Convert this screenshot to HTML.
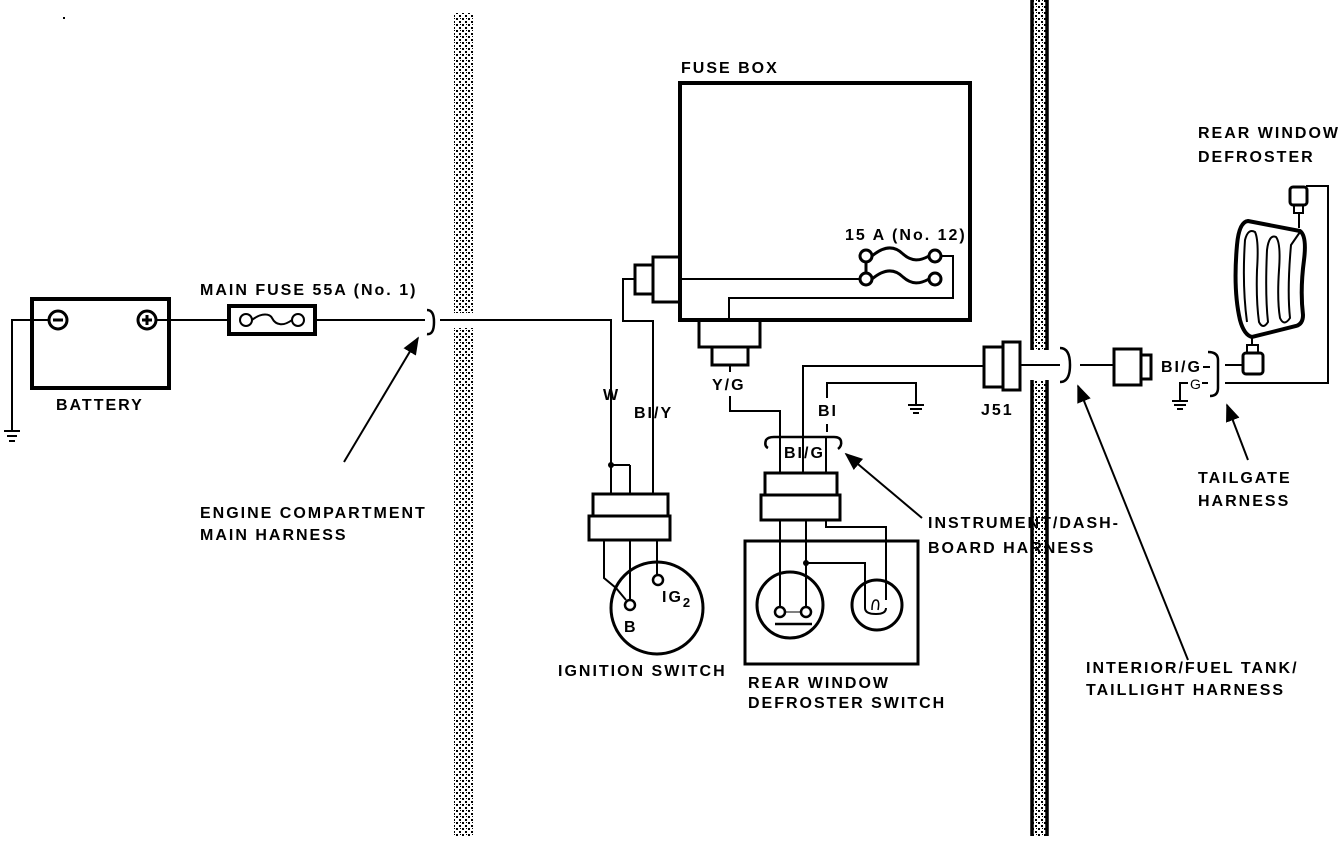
<!DOCTYPE html>
<html><head><meta charset="utf-8"><style>
html,body{margin:0;padding:0;background:#fff;}
svg{display:block;}
text{font-family:"Liberation Sans",sans-serif;font-weight:bold;font-size:16px;letter-spacing:2px;fill:#000;}
</style></head><body>
<svg width="1344" height="842" viewBox="0 0 1344 842" xmlns="http://www.w3.org/2000/svg">
<defs>
<pattern id="st" width="6" height="6" patternUnits="userSpaceOnUse">
<rect width="6" height="6" fill="#fff"/>
<rect x="0" y="0" width="2" height="2" fill="#000"/>
<rect x="3" y="3" width="2" height="2" fill="#000"/>
<rect x="4" y="0" width="1" height="1" fill="#000"/>
</pattern>
<marker id="ah" viewBox="0 0 10 10" refX="9" refY="5" markerWidth="9" markerHeight="9" orient="auto"><path d="M0,1 L10,5 L0,9 z" fill="#000"/></marker>
</defs>
<!-- walls -->
<rect x="454" y="13" width="19" height="300" fill="url(#st)"/>
<rect x="454" y="328" width="19" height="508" fill="url(#st)"/>
<rect x="1032" y="0" width="16" height="350" fill="url(#st)"/>
<rect x="1032" y="380" width="16" height="456" fill="url(#st)"/>
<g stroke="#000" stroke-width="3.5">
<line x1="1032" y1="0" x2="1032" y2="350"/><line x1="1047" y1="0" x2="1047" y2="350"/>
<line x1="1032" y1="380" x2="1032" y2="836"/><line x1="1047" y1="380" x2="1047" y2="836"/>
</g>

<g fill="none" stroke="#000" stroke-width="2">
<rect x="32" y="299" width="137" height="89" stroke-width="4"/>
<circle cx="58" cy="320" r="9" stroke-width="3"/><line x1="53" y1="320" x2="63" y2="320" stroke-width="3"/>
<circle cx="147" cy="320" r="9" stroke-width="3"/><line x1="142" y1="320" x2="152" y2="320" stroke-width="3"/><line x1="147" y1="315" x2="147" y2="325" stroke-width="3"/>
<polyline points="49,320 12,320 12,430"/>
<line x1="4" y1="431" x2="20" y2="431"/><line x1="7" y1="436" x2="17" y2="436"/><line x1="9" y1="441" x2="15" y2="441"/>
<line x1="156" y1="320" x2="229" y2="320"/>
<rect x="229" y="306" width="86" height="28" stroke-width="4"/>
<circle cx="246" cy="320" r="6"/><circle cx="298" cy="320" r="6"/>
<path d="M252,320 C262,312 270,314 272,318 C276,326 284,326 292,320"/>
<line x1="315" y1="320" x2="425" y2="320"/>
<path d="M427,310 Q434,310 434,322 Q434,335 427,334" stroke-width="2.5"/>
<polyline points="440,320 611,320 611,465"/>
<line x1="611" y1="465" x2="611" y2="493"/>
<line x1="344" y1="462" x2="418" y2="338" marker-end="url(#ah)"/>

<rect x="680" y="83" width="290" height="237" stroke-width="4"/>
<rect x="653" y="257" width="27" height="45" stroke-width="3"/>
<rect x="635" y="265" width="18" height="29" stroke-width="3"/>
<polyline points="635,279 623,279 623,321 653,321 653,493"/>
<line x1="680" y1="279" x2="860" y2="279"/>
<circle cx="866" cy="256" r="6" stroke-width="3"/><circle cx="935" cy="256" r="6" stroke-width="3"/>
<circle cx="866" cy="279" r="6" stroke-width="3"/><circle cx="935" cy="279" r="6" stroke-width="3"/>
<line x1="866" y1="262" x2="866" y2="273" stroke-width="3"/>
<path d="M872,256 C885,245 895,246 903,254 C912,262 920,261 929,256" stroke-width="3"/>
<path d="M872,279 C885,268 895,269 903,277 C912,285 920,284 929,279" stroke-width="3"/>
<polyline points="941,256 953,256 953,298 729,298 729,320"/>
<rect x="699" y="320" width="61" height="27" stroke-width="3"/>
<rect x="712" y="347" width="36" height="18" stroke-width="3"/>
<line x1="730" y1="365" x2="730" y2="372"/>
<polyline points="730,396 730,411 780,411 780,438"/>
<polyline points="803,438 803,366 985,366"/>
<polyline points="827,432 827,424"/>
<polyline points="827,398 827,383 916,383 916,404"/>
<line x1="908" y1="405" x2="924" y2="405"/><line x1="910" y1="409" x2="922" y2="409"/><line x1="913" y1="413" x2="919" y2="413"/>

<path d="M768,448 Q764,446 766,440 Q768,437 774,437 L834,437 Q840,437 841,441 Q842,446 838,449" stroke-width="2.5"/>
<line x1="780" y1="437" x2="780" y2="473"/><line x1="803" y1="437" x2="803" y2="473"/><line x1="826" y1="437" x2="826" y2="473"/>
<line x1="922" y1="518" x2="846" y2="454" marker-end="url(#ah)"/>
<rect x="765" y="473" width="72" height="22" stroke-width="3"/>
<rect x="761" y="495" width="79" height="25" stroke-width="3"/>
<rect x="745" y="541" width="173" height="123" stroke-width="3"/>
<circle cx="790" cy="605" r="33" stroke-width="3"/>
<circle cx="877" cy="605" r="25" stroke-width="3"/>
<line x1="780" y1="520" x2="780" y2="607"/>
<line x1="806" y1="520" x2="806" y2="607"/>
<circle cx="780" cy="612" r="5" stroke-width="2.5"/><circle cx="806" cy="612" r="5" stroke-width="2.5"/>
<line x1="785" y1="612" x2="801" y2="612" stroke-width="1"/>
<line x1="775" y1="624" x2="812" y2="624" stroke-width="2.5"/>
<polyline points="806,563 865,563 865,588"/>
<polyline points="826,520 826,527 886,527 886,600"/>
<path d="M865,588 L865,608 Q865,614 876,614 Q886,614 886,608"/>
<path d="M872,610 Q872,600 876,600 Q880,600 878,610" stroke-width="1.5"/>

<line x1="611" y1="465" x2="630" y2="465"/><line x1="630" y1="465" x2="630" y2="493"/>
<rect x="593" y="494" width="75" height="22" stroke-width="3"/>
<rect x="589" y="516" width="81" height="24" stroke-width="3"/>
<circle cx="657" cy="608" r="46" stroke-width="3"/>
<polyline points="604,540 604,578 616,588 626,600"/>
<line x1="630" y1="540" x2="630" y2="600"/>
<line x1="657" y1="540" x2="657" y2="575"/>
<circle cx="630" cy="605" r="5" stroke-width="2.5"/>
<circle cx="658" cy="580" r="5" stroke-width="2.5"/>

<rect x="984" y="347" width="19" height="40" stroke-width="3"/>
<rect x="1003" y="342" width="17" height="48" stroke-width="3"/>
<line x1="1020" y1="365" x2="1060" y2="365"/>
<path d="M1060,348 Q1070,348 1070,365 Q1070,382 1060,382" stroke-width="2.5"/>
<line x1="1080" y1="365" x2="1113" y2="365"/>
<rect x="1114" y="349" width="27" height="36" stroke-width="3"/>
<rect x="1141" y="355" width="10" height="24" stroke-width="3"/>
<line x1="1203" y1="367" x2="1210" y2="367"/>
<path d="M1208,352 Q1218,352 1218,360 L1218,388 Q1218,396 1210,396" stroke-width="2.5"/>
<line x1="1202" y1="383" x2="1208" y2="383"/>
<polyline points="1188,383 1180,383 1180,400"/>
<line x1="1172" y1="401" x2="1188" y2="401"/><line x1="1174" y1="405" x2="1186" y2="405"/><line x1="1177" y1="409" x2="1183" y2="409"/>
<line x1="1225" y1="365" x2="1243" y2="365"/>
<rect x="1243" y="353" width="20" height="21" rx="3" stroke-width="3"/>
<rect x="1247" y="345" width="11" height="8" stroke-width="2"/>
<line x1="1252" y1="337" x2="1252" y2="345"/>
<polyline points="1225,383 1328,383 1328,186 1306,186"/>
<rect x="1290" y="187" width="17" height="18" rx="3" stroke-width="3"/>
<rect x="1294" y="205" width="9" height="8" stroke-width="2"/>
<line x1="1299" y1="213" x2="1299" y2="228"/>
<path d="M1248,221 L1300,231 Q1307,236 1304,260 Q1300,290 1303,315 Q1303,324 1296,326 L1252,337 Q1244,335 1240,320 Q1233,290 1237,245 Q1239,222 1248,221 Z" stroke-width="4"/>
<path d="M1247,322 Q1242,285 1245,240 Q1248,228 1255,232 Q1259,240 1257,270 Q1256,300 1259,322 Q1263,330 1268,322 Q1265,295 1267,250 Q1269,234 1276,237 Q1281,243 1279,270 Q1277,300 1280,318 Q1284,327 1290,318 Q1287,290 1291,245 L1300,232" stroke-width="2"/>
<line x1="1188" y1="660" x2="1078" y2="386" marker-end="url(#ah)"/>
<line x1="1248" y1="460" x2="1227" y2="405" marker-end="url(#ah)"/>
</g>
<circle cx="611" cy="465" r="3" fill="#000"/>
<circle cx="806" cy="563" r="3" fill="#000"/>
<rect x="63" y="17" width="2" height="2" fill="#000"/>

<text x="200" y="295">MAIN FUSE 55A (No. 1)</text>
<text x="56" y="410">BATTERY</text>
<text x="200" y="518">ENGINE COMPARTMENT</text>
<text x="200" y="540">MAIN HARNESS</text>
<text x="681" y="73">FUSE BOX</text>
<text x="845" y="240">15 A (No. 12)</text>
<text x="603" y="400">W</text>
<text x="634" y="418">BI/Y</text>
<text x="712" y="390">Y/G</text>
<text x="818" y="416">BI</text>
<text x="784" y="458">BI/G</text>
<text x="981" y="415">J51</text>
<text x="1161" y="372">BI/G</text>
<text x="1190" y="389" style="font-weight:normal;font-size:14px;letter-spacing:0">G</text>
<text x="1198" y="138">REAR WINDOW</text>
<text x="1198" y="162">DEFROSTER</text>
<text x="1198" y="483">TAILGATE</text>
<text x="1198" y="506">HARNESS</text>
<text x="928" y="528">INSTRUMENT/DASH-</text>
<text x="928" y="553">BOARD HARNESS</text>
<text x="1086" y="673">INTERIOR/FUEL TANK/</text>
<text x="1086" y="695">TAILLIGHT HARNESS</text>
<text x="558" y="676">IGNITION SWITCH</text>
<text x="748" y="688">REAR WINDOW</text>
<text x="748" y="708">DEFROSTER SWITCH</text>
<text x="624" y="632">B</text>
<text x="662" y="602">IG<tspan font-size="13" dy="5">2</tspan></text>
</svg>
</body></html>
